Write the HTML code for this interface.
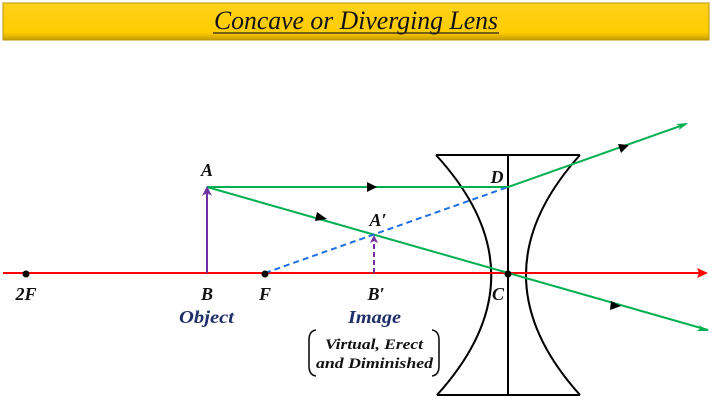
<!DOCTYPE html>
<html><head><meta charset="utf-8"><style>
html,body{margin:0;padding:0;background:#fff;width:713px;height:409px;overflow:hidden}
</style></head><body>
<svg width="713" height="409" viewBox="0 0 713 409" xmlns="http://www.w3.org/2000/svg">
<defs>
<linearGradient id="g" x1="0" y1="0" x2="0" y2="1">
<stop offset="0" stop-color="#FFD21A"/><stop offset="0.8" stop-color="#FFCC00"/><stop offset="1" stop-color="#C89B00"/>
</linearGradient>
</defs>
<rect x="3" y="3" width="706" height="37" fill="url(#g)" stroke="#B8960A" stroke-width="1"/>
<text x="214" y="29" textLength="284" lengthAdjust="spacingAndGlyphs" font-family="Liberation Serif, serif" font-style="italic" font-size="26" fill="#111">Concave or Diverging Lens</text>
<line x1="213" y1="33" x2="499" y2="33" stroke="#222" stroke-width="1.2"/>

<g stroke="#000" stroke-width="2" fill="none">
<line x1="436" y1="155" x2="580" y2="155"/>
<line x1="437" y1="395" x2="580" y2="395"/>
<path d="M436 155 Q546 275 437 395"/>
<path d="M580 155 Q472 275 580 395"/>
<line x1="508" y1="155" x2="508" y2="395"/>
</g>

<line x1="3" y1="273" x2="700" y2="273" stroke="#F00" stroke-width="2"/>
<path d="M708 273 L697 268 L699 273 L697 278 Z" fill="#F00"/>

<g stroke="#00B050" stroke-width="2" fill="none">
<line x1="207" y1="187" x2="508" y2="187"/>
<line x1="508" y1="187" x2="686" y2="124"/>
<line x1="207" y1="187" x2="708" y2="330"/>
</g>
<path d="M688 123 L676 124 L680 126 L679 130 Z" fill="#00B050"/>
<path d="M709 331 L697 331 L701 328 L699 325 Z" fill="#00B050"/>
<path d="M377 187 L367 182 L367 192 Z" fill="#000"/>
<path d="M629 145 L618 144 L621 153 Z" fill="#000"/>
<path d="M327 219 L317 212 L315 221 Z" fill="#000"/>
<path d="M621 306 L611 301 L610 310 Z" fill="#000"/>

<line x1="265" y1="273" x2="508" y2="187" stroke="#1F6FE0" stroke-width="2" stroke-dasharray="6,4"/>

<line x1="207" y1="273" x2="207" y2="192" stroke="#7030A0" stroke-width="2"/>
<path d="M207 186 L202 196 L207 193 L212 196 Z" fill="#7030A0"/>
<line x1="374" y1="273" x2="374" y2="240" stroke="#7030A0" stroke-width="2" stroke-dasharray="5,3"/>
<path d="M374 235 L370 243 L374 241 L378 243 Z" fill="#7030A0"/>

<g fill="#000">
<circle cx="26" cy="274" r="3.5"/><circle cx="265" cy="274" r="3.5"/><circle cx="508" cy="274" r="3.5"/>
</g>

<g font-family="Liberation Serif, serif" font-style="italic" font-weight="bold" font-size="18" fill="#111" text-anchor="middle">
<text x="26" y="300">2F</text>
<text x="207" y="300">B</text>
<text x="265" y="300">F</text>
<text x="376" y="300">B′</text>
<text x="498" y="300">C</text>
<text x="207" y="176">A</text>
<text x="378" y="226">A′</text>
<text x="497" y="183">D</text>
</g>
<g font-family="Liberation Serif, serif" font-style="italic" font-weight="bold" font-size="18" fill="#1F2F6A">
<text x="179" y="323" textLength="55" lengthAdjust="spacingAndGlyphs">Object</text>
<text x="348" y="323" textLength="53" lengthAdjust="spacingAndGlyphs">Image</text>
</g>
<g font-family="Liberation Serif, serif" font-style="italic" font-weight="bold" font-size="15" fill="#111">
<text x="325" y="349" textLength="98" lengthAdjust="spacingAndGlyphs">Virtual, Erect</text>
<text x="316" y="368" textLength="117" lengthAdjust="spacingAndGlyphs">and Diminished</text>
</g>
<g stroke="#111" stroke-width="1.6" fill="none">
<path d="M316 330 Q309 331 309 340 L309 366 Q309 375 316 376"/>
<path d="M432 330 Q439 331 439 340 L439 366 Q439 375 432 376"/>
</g>
</svg>
</body></html>
